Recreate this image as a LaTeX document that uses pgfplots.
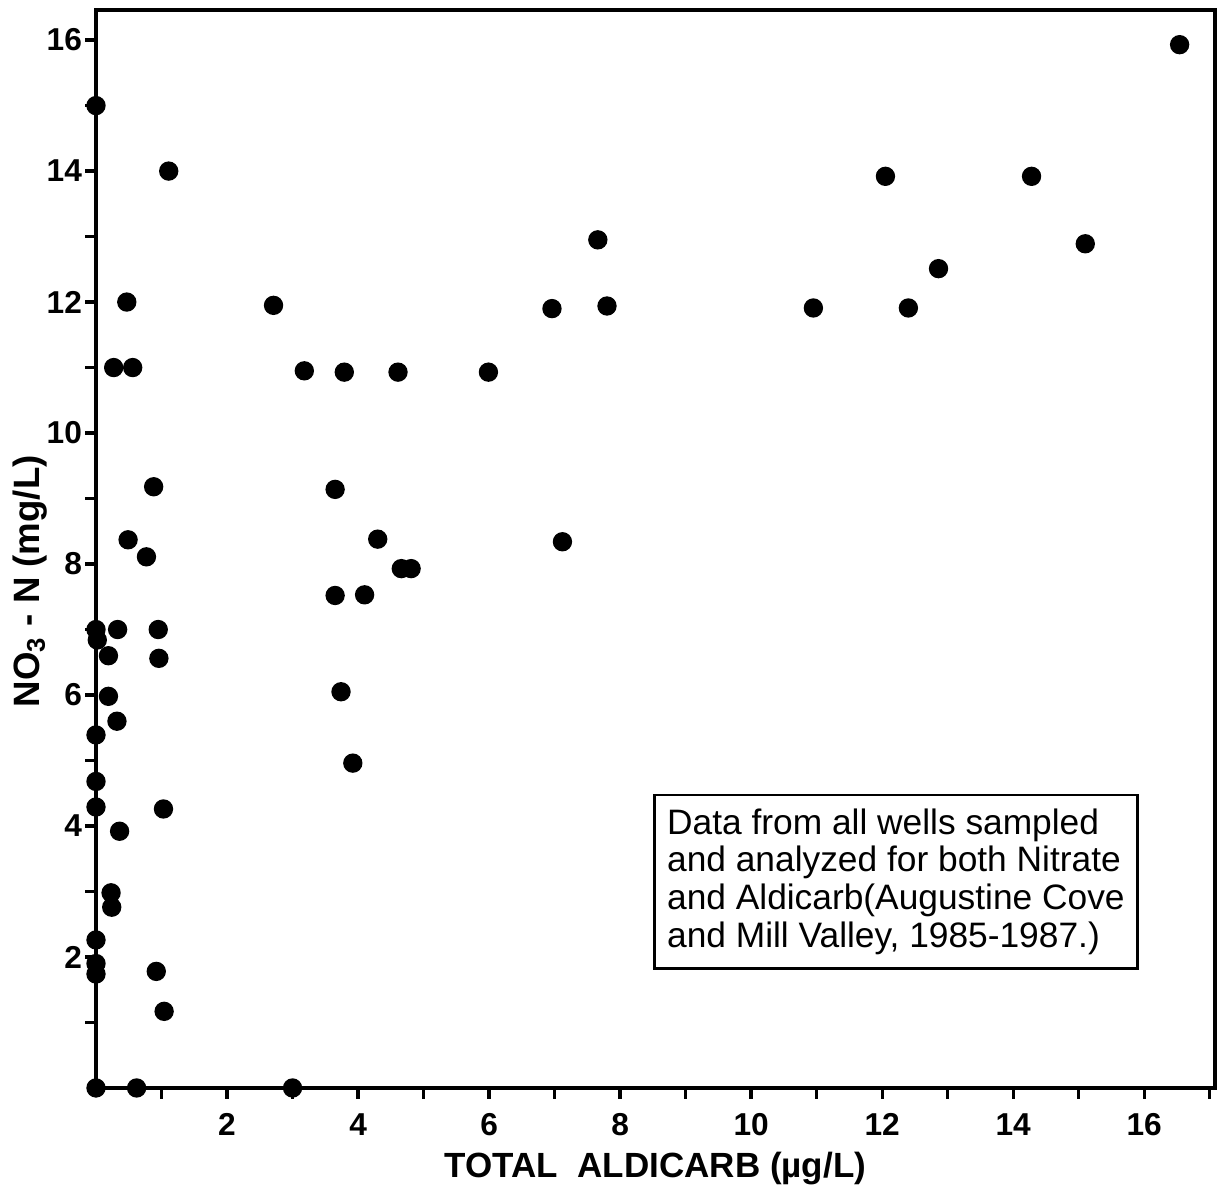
\documentclass[border=0pt]{standalone}
\usepackage{fontspec}
\setmainfont{Liberation Sans}
\usepackage{pgfplots}
\pgfplotsset{compat=1.18}

\begin{document}
\begin{tikzpicture}
\begin{axis}[
    name=ax,
    scale only axis,
    width=335.7pt, height=323.4pt,
    xmin=0, xmax=17.08, ymin=0, ymax=16.46,
    axis line style={line width=1.2pt},
    clip=false,
    xtick={1,...,17}, ytick={1,...,16},
    xticklabels={,2,,4,,6,,8,,10,,12,,14,,16,},
    yticklabels={,2,,4,,6,,8,,10,,12,,14,,16},
    xtick pos=bottom, ytick pos=left,
    tick align=outside,
    major tick length=3.2pt,
    tick style={line width=1pt, black},
    /pgf/number format/assume math mode=true,
    ticklabel style={font=\bfseries\fontsize{9.5}{10}\selectfont},
    xticklabel style={yshift=-1pt},
    yticklabel style={xshift=2.5pt},
    xlabel={TOTAL\ \ ALDICARB (µg/L)},
    ylabel={NO\textsubscript{3} - N (mg/L)},
    xlabel style={font=\bfseries\fontsize{10.5}{11}\selectfont, at={(axis description cs:0.5,0)}, anchor=base, yshift=-27pt, inner sep=0pt},
    ylabel style={font=\bfseries\fontsize{11}{12}\selectfont, at={(axis description cs:-0.059,0.47)}, anchor=center, inner sep=0pt},
]
\addplot[only marks, mark=*, mark size=2.7pt, mark options={fill=black, draw=black}] coordinates {
(0,15) (1.11,14.0) (0.47,12.0) (0.27,11.0) (0.56,11.0) (2.71,11.95)
(3.18,10.95) (3.79,10.93) (4.61,10.93) (5.99,10.93) (6.96,11.9) (7.66,12.95)
(7.8,11.94) (7.12,8.34) (10.95,11.91) (12.05,13.92) (12.4,11.91) (12.86,12.51)
(14.28,13.92) (15.1,12.89) (16.54,15.93)
(0.88,9.18) (0.49,8.37) (0.77,8.11) (3.65,9.14) (4.3,8.38) (4.66,7.93)
(4.81,7.93) (3.65,7.52) (4.1,7.53) (3.74,6.05) (3.92,4.96)
(0,7.0) (0.02,6.84) (0.33,7.0) (0.95,7.0) (0.19,6.6) (0.96,6.56)
(0.19,5.98) (0.32,5.6) (0,5.39) (0,4.68) (0,4.29) (1.03,4.26) (0.36,3.92)
(0.23,2.98) (0.24,2.76) (0,2.26) (0,1.90) (0,1.74) (0.92,1.78) (1.04,1.17)
(0,0) (0.62,0) (3.0,0)
};
\node[draw, line width=0.8pt, align=left, inner sep=2pt,
      font=\fontsize{10.6}{11.3}\selectfont,
      minimum width=145pt, minimum height=52pt, anchor=center] at (axis cs:12.21,3.15)
  {Data from all wells sampled\\and analyzed for both Nitrate\\and Aldicarb(Augustine Cove\\and Mill Valley, 1985-1987.)};
\end{axis}
\path ([xshift=-28.8pt,yshift=-31.2pt]ax.south west) rectangle ([xshift=3.3pt,yshift=3pt]ax.north east);
\end{tikzpicture}
\end{document}
